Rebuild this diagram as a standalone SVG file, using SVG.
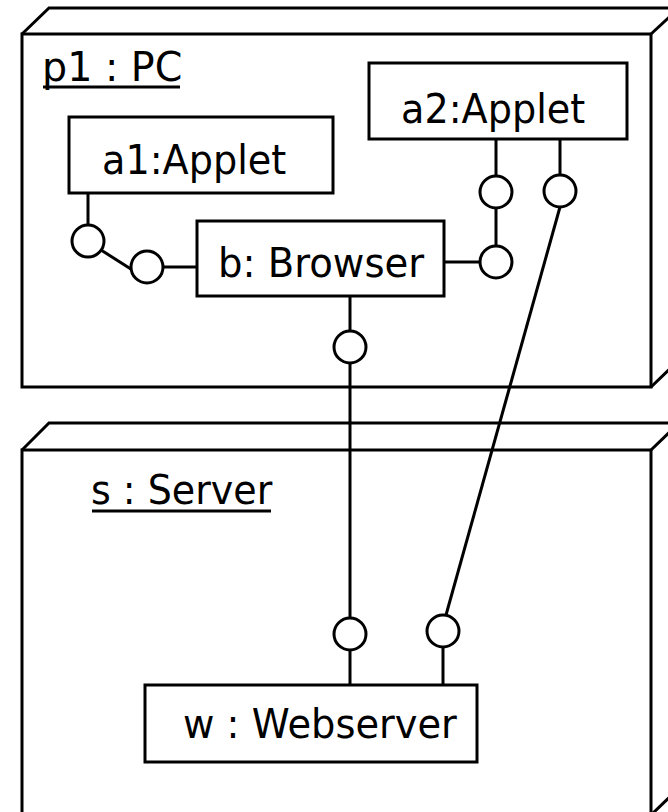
<svg xmlns="http://www.w3.org/2000/svg" width="668" height="812" viewBox="0 0 668 812">
<style>
.edge{fill:none;stroke:#000;stroke-width:3;stroke-linejoin:miter}
.box{fill:#fff;stroke:#000;stroke-width:3}
.face{fill:#fff;stroke:#000;stroke-width:3;stroke-linejoin:miter}
.lbl{font-family:"DejaVu Sans","Noto Sans",sans-serif;font-size:40px;fill:#000}
.ttl{font-family:"DejaVu Sans","Noto Sans",sans-serif;font-size:40px;fill:#000}
.ul{stroke:#000;stroke-width:3}
.ball{fill:#fff;stroke:#000;stroke-width:3}
</style>
<rect width="668" height="812" fill="#fff"/>
<g id="pc">
  <path class="face" d="M22,34 L49,8 L679,8 L679,360 L651,387"/>
  <line class="edge" x1="651" y1="34" x2="679" y2="8"/>
  <rect class="box" x="22" y="34" width="629" height="353"/>
  <text class="ttl" transform="translate(42,81) scale(0.99,1)">p1 : PC</text>
  <line class="ul" x1="43" y1="87" x2="180" y2="87"/>
</g>
<g id="server">
  <path class="face" d="M22,450 L49,423 L679,423 L679,788 L651,815"/>
  <line class="edge" x1="651" y1="450" x2="679" y2="423"/>
  <rect class="box" x="22" y="450" width="629" height="365"/>
  <text class="ttl" transform="translate(91,504) scale(0.95,1)">s : Server</text>
  <line class="ul" x1="92" y1="511" x2="271" y2="511"/>
</g>
<g id="a1">
  <rect class="box" x="69" y="117" width="264" height="76"/>
  <text class="lbl" transform="translate(102,174) scale(0.955,1)">a1:Applet</text>
</g>
<g id="a2">
  <rect class="box" x="369" y="63" width="258" height="76"/>
  <text class="lbl" transform="translate(401,123) scale(0.955,1)">a2:Applet</text>
</g>
<g id="browser">
  <rect class="box" x="197" y="221" width="247" height="75"/>
  <text class="lbl" transform="translate(218,277) scale(0.965,1)">b: Browser</text>
</g>
<g id="webserver">
  <rect class="box" x="145" y="685" width="332" height="77"/>
  <text class="lbl" transform="translate(183,738) scale(0.96,1)">w : Webserver</text>
</g>
<g id="connectors">
  <line class="edge" x1="88" y1="193" x2="88" y2="225"/>
  <line class="edge" x1="101" y1="250" x2="134" y2="271"/>
  <line class="edge" x1="163" y1="267" x2="197" y2="267"/>
  <circle class="ball" cx="88" cy="241" r="16"/>
  <circle class="ball" cx="147" cy="267" r="16"/>
  <line class="edge" x1="496" y1="139" x2="496" y2="176"/>
  <line class="edge" x1="496" y1="208" x2="496" y2="246"/>
  <line class="edge" x1="444" y1="262" x2="480" y2="262"/>
  <circle class="ball" cx="496" cy="192" r="16"/>
  <circle class="ball" cx="496" cy="262" r="16"/>
  <line class="edge" x1="350" y1="296" x2="350" y2="331"/>
  <line class="edge" x1="350" y1="363" x2="350" y2="618"/>
  <line class="edge" x1="350" y1="650" x2="350" y2="685"/>
  <circle class="ball" cx="350" cy="347" r="16"/>
  <circle class="ball" cx="350" cy="634" r="16"/>
  <line class="edge" x1="560" y1="139" x2="560" y2="175"/>
  <line class="edge" x1="560" y1="207" x2="446" y2="615"/>
  <line class="edge" x1="443" y1="647" x2="443" y2="685"/>
  <circle class="ball" cx="560" cy="191" r="16"/>
  <circle class="ball" cx="443" cy="631" r="16"/>
</g>
</svg>
